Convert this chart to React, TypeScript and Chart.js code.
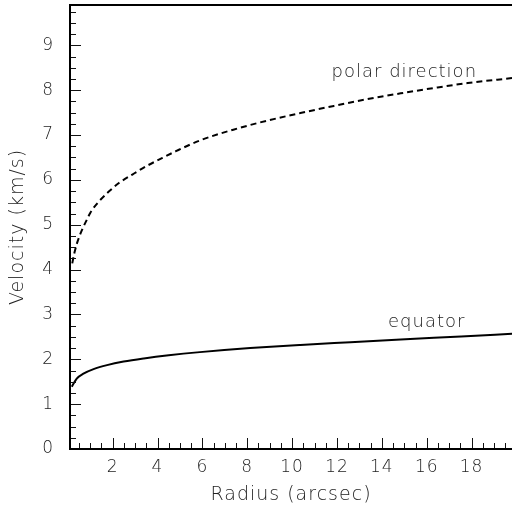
import { useEffect, useRef } from "react";
import { Chart, registerables } from "chart.js";

Chart.register(...registerables);

// Polar direction (dashed)
const polarRadius = [0.2, 0.3, 0.4, 0.63, 0.82, 1.02, 1.39, 1.83, 2.28, 2.88, 3.48, 4.22, 4.82, 5.89, 7.38, 8.88, 10.37, 11.86, 13.35, 14.84, 16.33, 17.83, 19.8];
const polarVelocity = [4.14, 4.38, 4.57, 4.88, 5.08, 5.28, 5.52, 5.74, 5.93, 6.12, 6.3, 6.49, 6.64, 6.88, 7.12, 7.32, 7.49, 7.65, 7.8, 7.93, 8.05, 8.16, 8.27];

// Equator (solid)
const equatorRadius = [0.18, 0.4, 0.7, 1.15, 1.75, 2.49, 3.39, 4.5, 5.89, 8.13, 10.37, 12.6, 14.84, 17.53, 19.8];
const equatorVelocity = [1.39, 1.57, 1.68, 1.78, 1.87, 1.95, 2.02, 2.09, 2.16, 2.25, 2.32, 2.38, 2.44, 2.51, 2.57];

const xTickValues = [2, 4, 6, 8, 10, 12, 14, 16, 18];
const yTickValues = [0, 1, 2, 3, 4, 5, 6, 7, 8, 9];

const curveLabels = ["polar direction", "equator"];
const curveLabelRadius = [15, 16];
const curveLabelVelocity = [8.4, 2.83];

export default function App() {
  const ref = useRef<HTMLCanvasElement>(null);

  useEffect(() => {
    const FONT = "'DejaVu Sans', 'Liberation Sans', sans-serif";
    const ink = "#222";

    const framePlugin = {
      id: "frame",
      beforeDraw(chart: any) {
        (chart.ctx as any).letterSpacing = "1px";
      },
      afterDatasetsDraw(chart: any) {
        const { ctx, scales } = chart;
        ctx.save();
        (ctx as any).letterSpacing = "1px";
        ctx.font = `200 18px ${FONT}`;
        ctx.fillStyle = ink;
        ctx.textAlign = "center";
        ctx.textBaseline = "middle";
        curveLabels.forEach((t, i) => {
          ctx.fillText(
            t,
            scales.x.getPixelForValue(curveLabelRadius[i]),
            scales.y.getPixelForValue(curveLabelVelocity[i])
          );
        });
        ctx.restore();
      },
      afterDraw(chart: any) {
        const { ctx, chartArea, scales } = chart;
        const { left, right, top, bottom } = chartArea;
        const xs = scales.x;
        const ys = scales.y;
        ctx.save();
        ctx.strokeStyle = "#111";
        ctx.lineWidth = 1;
        ctx.beginPath();
        // x ticks (major every 2, minor every 0.5)
        for (let k = 1; k * 0.5 <= xs.max + 1e-9; k++) {
          const v = k * 0.5;
          if (v < xs.min) continue;
          const px = Math.round(xs.getPixelForValue(v)) + 0.5;
          const len = k % 4 === 0 ? 11 : 6;
          ctx.moveTo(px, bottom);
          ctx.lineTo(px, bottom - len);
        }
        // y ticks (major every 1, minor every 0.25)
        for (let k = 1; k * 0.25 <= ys.max + 1e-9; k++) {
          const v = k * 0.25;
          const py = Math.round(ys.getPixelForValue(v)) + 0.5;
          const len = k % 4 === 0 ? 11 : 6;
          ctx.moveTo(left, py);
          ctx.lineTo(left + len, py);
        }
        ctx.stroke();

        ctx.strokeStyle = "#000";
        ctx.lineWidth = 2;
        ctx.beginPath();
        ctx.moveTo(right + 2, top);
        ctx.lineTo(left, top);
        ctx.lineTo(left, bottom);
        ctx.lineTo(right + 2, bottom);
        ctx.stroke();
        ctx.restore();
      },
    };

    const tickFont = { family: FONT, size: 17, weight: 200 as any };
    const titleFont = { family: FONT, size: 19, weight: 200 as any };

    const chart = new Chart(ref.current!, {
      type: "line",
      data: {
        datasets: [
          {
            label: "polar direction",
            data: polarRadius.map((r, i) => ({ x: r, y: polarVelocity[i] })),
            borderColor: "#000",
            borderWidth: 2,
            borderDash: [6, 4],
            pointRadius: 0,
            cubicInterpolationMode: "monotone",
            fill: false,
          },
          {
            label: "equator",
            data: equatorRadius.map((r, i) => ({ x: r, y: equatorVelocity[i] })),
            borderColor: "#000",
            borderWidth: 2,
            pointRadius: 0,
            cubicInterpolationMode: "monotone",
            fill: false,
          },
        ],
      },
      options: {
        animation: false,
        responsive: false,
        maintainAspectRatio: false,
        layout: { padding: { top: 5, right: 0, left: 0, bottom: 0 } },
        plugins: { legend: { display: false }, tooltip: { enabled: false } },
        scales: {
          x: {
            type: "linear",
            min: 0.1,
            max: 19.8,
            afterBuildTicks: (s: any) => {
              s.ticks = xTickValues.map((v) => ({ value: v }));
            },
            afterFit: (s: any) => {
              s.height = 63;
              s.paddingLeft = 0;
              s.paddingRight = 0;
              s.paddingTop = 0;
              s.paddingBottom = 0;
            },
            grid: { display: false, drawTicks: false },
            border: { display: false },
            ticks: { color: ink, font: tickFont, padding: 8, maxRotation: 0, autoSkip: false },
            title: {
              display: true,
              text: "Radius (arcsec)",
              color: ink,
              font: titleFont,
              padding: { top: 0, bottom: 6 },
            },
          },
          y: {
            type: "linear",
            min: 0,
            max: 9.9,
            afterBuildTicks: (s: any) => {
              s.ticks = yTickValues.map((v) => ({ value: v }));
            },
            afterFit: (s: any) => {
              s.width = 70;
              s.paddingLeft = 0;
              s.paddingRight = 0;
              s.paddingTop = 0;
              s.paddingBottom = 0;
            },
            grid: { display: false, drawTicks: false },
            border: { display: false },
            ticks: { color: ink, font: tickFont, padding: 16, autoSkip: false },
            title: {
              display: true,
              text: "Velocity (km/s)",
              color: ink,
              font: titleFont,
              padding: { top: 7, bottom: 0 },
            },
          },
        },
      },
      plugins: [framePlugin],
    });
    return () => chart.destroy();
  }, []);

  return (
    <div style={{ position: "fixed", left: 0, top: 0, width: 512, height: 512, background: "#fff" }}>
      <canvas ref={ref} width={512} height={512} style={{ display: "block" }} />
    </div>
  );
}
